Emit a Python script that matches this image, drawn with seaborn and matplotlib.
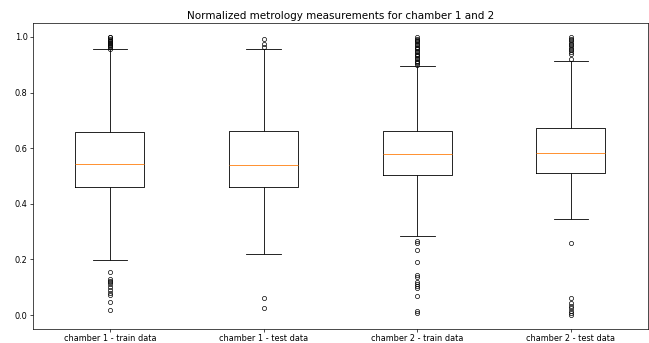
import matplotlib
matplotlib.use("Agg")
import matplotlib.pyplot as plt
import pandas as pd
import seaborn as sns

# box summaries
groups = [
    "chamber 1 - train data",
    "chamber 1 - test data",
    "chamber 2 - train data",
    "chamber 2 - test data",
]
q1 = [0.461, 0.461, 0.504, 0.509]
median = [0.544, 0.540, 0.580, 0.582]
q3 = [0.659, 0.661, 0.662, 0.673]
whisker_low = [0.197, 0.221, 0.284, 0.345]
whisker_high = [0.955, 0.957, 0.896, 0.915]
outliers_c1_train = [0.018, 0.048, 0.072, 0.080, 0.090, 0.101, 0.110, 0.118, 0.124, 0.131, 0.153,
                     0.958, 0.962, 0.966, 0.970, 0.974, 0.978, 0.982, 0.986, 0.990, 0.994, 0.998, 1.0]
outliers_c1_test = [0.026, 0.060, 0.964, 0.974, 0.992]
outliers_c2_train = [0.006, 0.015, 0.068, 0.096, 0.104, 0.110, 0.119, 0.137, 0.143, 0.191, 0.235, 0.258, 0.265,
                     0.900, 0.905, 0.910, 0.915, 0.920, 0.925, 0.930, 0.935, 0.940, 0.945, 0.950, 0.955,
                     0.960, 0.965, 0.970, 0.975, 0.980, 0.985, 0.990, 0.994, 0.998]
outliers_c2_test = [0.0, 0.008, 0.016, 0.025, 0.034, 0.044, 0.062, 0.260,
                    0.922, 0.938, 0.946, 0.952, 0.958, 0.964, 0.970, 0.976, 0.982, 0.988, 0.994, 0.998]
outliers = [outliers_c1_train, outliers_c1_test, outliers_c2_train, outliers_c2_test]

# expand the summaries into a long table seaborn can compute boxes from
BLOCK = 1000
rows = []
for i, name in enumerate(groups):
    vals = ([whisker_low[i], whisker_high[i]]
            + [q1[i]] * BLOCK + [median[i]] * BLOCK + [q3[i]] * BLOCK
            + outliers[i])
    rows += [(name, v) for v in vals]
df = pd.DataFrame(rows, columns=["dataset", "value"])

fig = plt.figure(figsize=(6.49, 3.43), dpi=100)
ax = fig.add_axes([0.051, 0.041, 0.947, 0.892])

sns.boxplot(
    data=df, x="dataset", y="value", ax=ax,
    fill=False, color="black", width=0.45, linewidth=0.6,
    medianprops=dict(color="#ff7f0e", linewidth=0.6),
    flierprops=dict(marker="o", markerfacecolor="none", markeredgecolor="black",
                    markersize=3, markeredgewidth=0.5),
)

ax.set_title("Normalized metrology measurements for chamber 1 and 2", fontsize=7.5, pad=3)
ax.set_xlabel("")
ax.set_ylabel("")
ax.set_yticks([0.0, 0.2, 0.4, 0.6, 0.8, 1.0])
ax.tick_params(labelsize=5.9, width=0.5, length=2, pad=2)
for s in ax.spines.values():
    s.set_linewidth(0.5)

plt.savefig("out.png", dpi=100)
